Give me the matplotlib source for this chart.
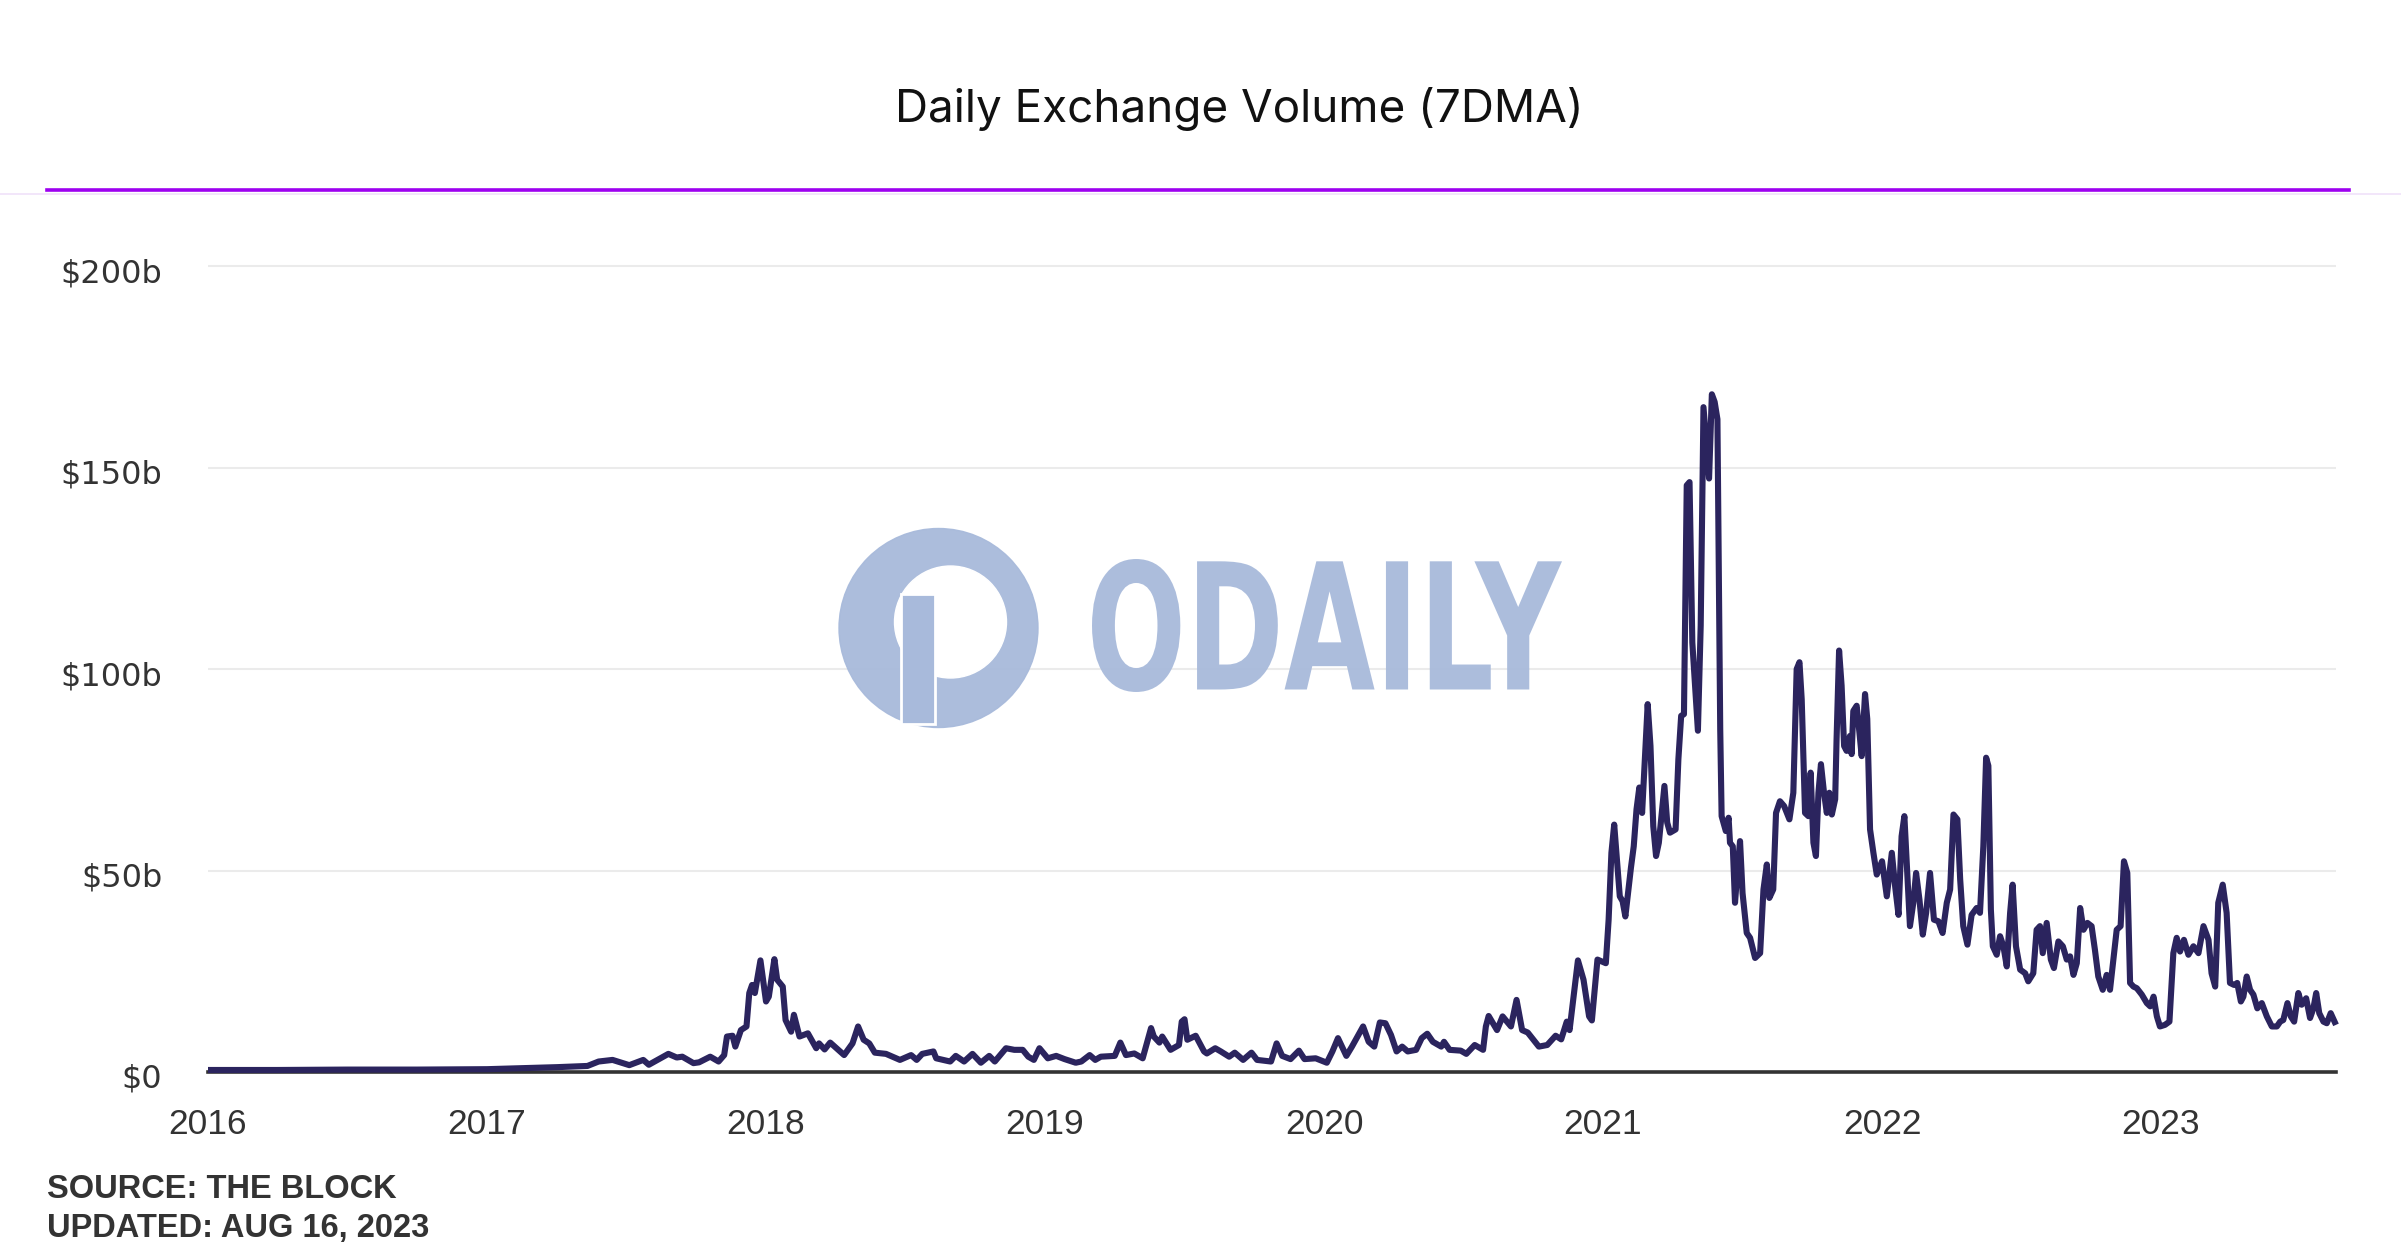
import matplotlib
matplotlib.use("Agg")
import matplotlib.pyplot as plt
from matplotlib.lines import Line2D
from matplotlib.patches import Ellipse, PathPatch, Rectangle
from matplotlib.textpath import TextPath
from matplotlib.font_manager import FontProperties
from matplotlib.transforms import Affine2D, ScaledTranslation

# Daily exchange volume, 7 day moving average, in billions of USD
# x values are decimal years
years = [
  2016.00, 2016.25, 2016.50, 2016.75, 2017.00, 2017.15, 2017.25, 2017.36, 2017.40, 2017.45,
  2017.51, 2017.56, 2017.58, 2017.65, 2017.68, 2017.70, 2017.74, 2017.76, 2017.80, 2017.83,
  2017.85, 2017.86, 2017.88, 2017.89, 2017.91, 2017.93, 2017.94, 2017.95, 2017.96, 2017.98,
  2018.00, 2018.01, 2018.03, 2018.04, 2018.06, 2018.07, 2018.09, 2018.10, 2018.12, 2018.15,
  2018.18, 2018.19, 2018.21, 2018.23, 2018.28, 2018.31, 2018.33, 2018.35, 2018.37, 2018.39,
  2018.43, 2018.48, 2018.52, 2018.54, 2018.56, 2018.60, 2018.61, 2018.66, 2018.68, 2018.71,
  2018.74, 2018.77, 2018.80, 2018.82, 2018.86, 2018.89, 2018.92, 2018.94, 2018.96, 2018.98,
  2019.01, 2019.04, 2019.07, 2019.11, 2019.13, 2019.16, 2019.18, 2019.20, 2019.25, 2019.27,
  2019.29, 2019.32, 2019.35, 2019.38, 2019.39, 2019.41, 2019.42, 2019.45, 2019.48, 2019.49,
  2019.50, 2019.51, 2019.54, 2019.57, 2019.58, 2019.61, 2019.63, 2019.66, 2019.68, 2019.71,
  2019.74, 2019.76, 2019.81, 2019.83, 2019.85, 2019.88, 2019.91, 2019.93, 2019.97, 2020.01,
  2020.03, 2020.05, 2020.08, 2020.10, 2020.14, 2020.16, 2020.18, 2020.20, 2020.22, 2020.24,
  2020.26, 2020.28, 2020.30, 2020.33, 2020.35, 2020.37, 2020.39, 2020.42, 2020.43, 2020.45,
  2020.49, 2020.51, 2020.54, 2020.57, 2020.58, 2020.59, 2020.62, 2020.64, 2020.67, 2020.69,
  2020.71, 2020.73, 2020.77, 2020.80, 2020.83, 2020.85, 2020.87, 2020.88, 2020.91, 2020.93,
  2020.95, 2020.96, 2020.98, 2021.01, 2021.02, 2021.03, 2021.04, 2021.06, 2021.07, 2021.08,
  2021.10, 2021.11, 2021.12, 2021.13, 2021.14, 2021.16, 2021.17, 2021.18, 2021.19, 2021.20,
  2021.22, 2021.23, 2021.24, 2021.26, 2021.27, 2021.28, 2021.29, 2021.30, 2021.31, 2021.32,
  2021.34, 2021.35, 2021.36, 2021.38, 2021.39, 2021.40, 2021.41, 2021.42, 2021.425, 2021.44,
  2021.45, 2021.455, 2021.465, 2021.473, 2021.481, 2021.491, 2021.50, 2021.515, 2021.527, 2021.545,
  2021.563, 2021.575, 2021.587, 2021.596, 2021.61, 2021.62, 2021.634, 2021.649, 2021.668, 2021.682,
  2021.694, 2021.704, 2021.712, 2021.724, 2021.736, 2021.744, 2021.754, 2021.763, 2021.772, 2021.781,
  2021.792, 2021.802, 2021.811, 2021.82, 2021.832, 2021.837, 2021.846, 2021.855, 2021.864, 2021.873,
  2021.885, 2021.891, 2021.897, 2021.909, 2021.919, 2021.927, 2021.939, 2021.947, 2021.957, 2021.969,
  2021.981, 2022.00, 2022.017, 2022.035, 2022.047, 2022.059, 2022.070, 2022.080, 2022.088, 2022.100,
  2022.112, 2022.122, 2022.134, 2022.146, 2022.158, 2022.172, 2022.186, 2022.202, 2022.217, 2022.232,
  2022.244, 2022.256, 2022.270, 2022.280, 2022.291, 2022.306, 2022.321, 2022.339, 2022.351, 2022.363,
  2022.373, 2022.381, 2022.390, 2022.397, 2022.411, 2022.423, 2022.435, 2022.447, 2022.459, 2022.468,
  2022.480, 2022.495, 2022.513, 2022.524, 2022.542, 2022.554, 2022.566, 2022.576, 2022.590, 2022.605,
  2022.616, 2022.632, 2022.648, 2022.662, 2022.674, 2022.686, 2022.698, 2022.710, 2022.722, 2022.736,
  2022.751, 2022.763, 2022.775, 2022.791, 2022.805, 2022.817, 2022.829, 2022.841, 2022.855, 2022.867,
  2022.879, 2022.889, 2022.901, 2022.913, 2022.931, 2022.949, 2022.961, 2022.973, 2022.985, 2022.996,
  2023.014, 2023.030, 2023.044, 2023.056, 2023.068, 2023.082, 2023.098, 2023.116, 2023.134, 2023.152,
  2023.170, 2023.181, 2023.194, 2023.205, 2023.221, 2023.235, 2023.247, 2023.262, 2023.273, 2023.286,
  2023.295, 2023.307, 2023.319, 2023.331, 2023.345, 2023.361, 2023.379, 2023.397, 2023.415, 2023.427,
  2023.438, 2023.453, 2023.465, 2023.477, 2023.492, 2023.504, 2023.520, 2023.534, 2023.546, 2023.556,
  2023.567, 2023.582, 2023.594, 2023.608, 2023.627,
]
volume_b = [
  0.5, 0.5, 0.6, 0.6, 0.7, 1.0, 1.2, 1.5, 2.6, 3.0,
  1.7, 3.0, 1.8, 4.5, 3.6, 3.8, 2.2, 2.4, 3.8, 2.6,
  4.2, 8.8, 9.0, 6.3, 10.4, 11.3, 19.6, 21.6, 19.6, 27.7,
  17.5, 18.7, 28.0, 22.9, 21.2, 12.9, 10.0, 14.2, 8.8, 9.6,
  5.9, 7.1, 5.6, 7.3, 4.2, 7.1, 11.3, 8.0, 7.1, 4.8,
  4.5, 3.0, 4.2, 3.0, 4.5, 5.1, 3.4, 2.6, 4.0, 2.6,
  4.5, 2.3, 4.0, 2.6, 5.9, 5.5, 5.5, 3.8, 3.0, 5.9,
  3.4, 4.0, 3.2, 2.3, 2.6, 4.2, 3.0, 3.8, 4.0, 7.3,
  4.2, 4.6, 3.4, 10.9, 8.8, 7.3, 8.8, 5.5, 6.7, 12.5,
  13.1, 8.0, 9.0, 5.1, 4.6, 5.9, 5.1, 3.8, 4.8, 3.0,
  4.8, 3.0, 2.6, 7.1, 4.0, 3.2, 5.3, 3.2, 3.4, 2.3,
  5.1, 8.4, 4.0, 6.3, 11.3, 7.5, 6.3, 12.3, 12.1, 9.2,
  5.1, 6.3, 5.1, 5.5, 8.4, 9.5, 7.5, 6.3, 7.5, 5.5,
  5.3, 4.5, 6.7, 5.5, 11.3, 13.9, 10.4, 13.8, 11.3, 17.9,
  10.4, 9.8, 6.3, 6.7, 9.0, 8.1, 12.5, 10.4, 27.7, 22.9,
  13.8, 12.8, 27.9, 27.0, 37.8, 54.4, 61.4, 43.6, 42.4, 38.6,
  50.7, 56.0, 65.2, 70.6, 64.3, 91.3, 80.9, 61.0, 53.6, 56.9,
  71.0, 61.9, 59.4, 60.2, 77.6, 88.4, 88.8, 145.6, 146.4, 106.6,
  84.7, 110.8, 165.0, 147.3, 168.2, 166.3, 162.0, 85.0, 63.5, 59.8,
  63.1, 56.9, 56.0, 42.0, 49.4, 57.3, 44.4, 34.5, 33.3, 28.3,
  29.5, 45.3, 51.5, 43.2, 45.3, 64.3, 67.2, 66.0, 62.7, 69.3,
  100.0, 101.7, 92.5, 64.3, 63.5, 74.3, 56.9, 53.6, 69.3, 76.4,
  69.3, 64.3, 69.3, 63.9, 67.7, 82.6, 104.6, 95.9, 80.9, 79.7,
  83.4, 78.9, 89.6, 90.9, 84.2, 78.4, 93.8, 87.6, 60.2, 54.4,
  49.0, 52.3, 43.6, 54.4, 46.0, 39.0, 58.5, 63.5, 52.7, 36.2,
  42.0, 49.4, 42.8, 34.1, 39.5, 49.4, 37.8, 37.4, 34.5, 42.0,
  45.3, 63.9, 62.7, 47.8, 36.2, 31.6, 39.0, 40.7, 39.5, 56.0,
  78.0, 76.0, 40.3, 31.2, 29.1, 33.7, 31.2, 26.2, 39.5, 46.5,
  31.2, 25.4, 24.5, 22.5, 24.5, 35.3, 36.2, 29.5, 37.0, 27.9,
  25.8, 32.4, 31.2, 27.9, 28.7, 24.1, 27.0, 40.7, 35.3, 37.0,
  36.2, 30.3, 23.7, 20.4, 24.1, 20.4, 27.9, 35.3, 36.2, 52.3,
  49.4, 22.1, 21.2, 20.8, 19.2, 17.1, 16.3, 18.7, 13.8, 11.3,
  11.7, 12.5, 29.5, 33.3, 29.9, 32.8, 29.1, 31.2, 29.5, 36.2,
  32.8, 24.5, 21.2, 42.0, 46.5, 39.5, 22.1, 21.6, 22.1, 17.5,
  18.7, 23.7, 20.4, 19.2, 15.8, 17.1, 13.8, 11.3, 11.3, 12.5,
  12.9, 17.1, 13.8, 12.5, 19.6, 16.7, 18.3, 13.4, 15.8, 19.6,
  14.6, 12.5, 12.1, 14.6, 11.7,
]

year_ticks = [2016, 2017, 2018, 2019, 2020, 2021, 2022, 2023]
y_ticks = [0, 50, 100, 150, 200]
y_labels = ["\\$0", "\\$50b", "\\$100b", "\\$150b", "\\$200b"]

title = "Daily Exchange Volume (7DMA)"
source_lines = ["SOURCE: THE BLOCK", "UPDATED: AUG 16, 2023"]

W, H = 2401, 1260
fig = plt.figure(figsize=(W / 100, H / 100), dpi=100, facecolor="white")

# plot area in pixels: x 208..2336, y 246..1072 (from top)
ax = fig.add_axes([208 / W, 1 - 1072 / H, (2336 - 208) / W, (1072 - 246) / H])
ax.set_xlim(2016.0, 2023.627)
ax.set_ylim(0, 205)
for s in ax.spines.values():
  s.set_visible(False)

for v in y_ticks[1:]:
  ax.axhline(v, color="#ebebeb", lw=1.5, zorder=0)
ax.axhline(0, color="#333333", lw=2.6, zorder=2, clip_on=False)

ax.plot(years, volume_b, color="#2b245e", lw=4.4, solid_joinstyle="round",
        solid_capstyle="butt", zorder=3, clip_on=False)

ax.set_yticks(y_ticks)
ax.set_yticklabels(y_labels, fontsize=23, color="#333333", family="DejaVu Sans")
ax.set_xticks(year_ticks)
ax.set_xticklabels([str(y) for y in year_ticks], fontsize=25.5, color="#333333",
                   family=["Liberation Sans", "DejaVu Sans"])
ax.tick_params(axis="y", length=0, pad=33)
ax.tick_params(axis="x", length=0, pad=26)
# y labels sit a little below their gridlines
shift = ScaledTranslation(0, -4 / 100, fig.dpi_scale_trans)
for lab in ax.get_yticklabels():
  lab.set_transform(lab.get_transform() + shift)

# header
fig.text(1239 / W, 1 - 109 / H, title, ha="center", va="center", fontsize=33,
         color="#111111", family=["Inter", "DejaVu Sans"])
fig.add_artist(Line2D([0, 1], [1 - 194 / H] * 2, color="#f0e2fa", lw=1.2,
                      transform=fig.transFigure))
fig.add_artist(Line2D([47 / W, 2349 / W], [1 - 190 / H] * 2, color="#9d00f0", lw=2.6,
                      transform=fig.transFigure))

# footer
fig.text(47 / W, 1 - 1190 / H, source_lines[0], ha="left", va="center", fontsize=23.5,
         fontweight="bold", color="#333333", family=["Liberation Sans", "DejaVu Sans"])
fig.text(47 / W, 1 - 1228 / H, source_lines[1], ha="left", va="center", fontsize=23.5,
         fontweight="bold", color="#333333", family=["Liberation Sans", "DejaVu Sans"])

# watermark
wm = "#a8badb"
cx, cy, r = 938.5, 628, 99.5
fig.add_artist(Ellipse((cx / W, 1 - cy / H), 2 * r / W, 2 * r / H, color=wm, alpha=0.95,
                       transform=fig.transFigure, zorder=1))
fig.add_artist(Ellipse(((cx + 12) / W, 1 - (cy - 6) / H), 2 * 56 / W, 2 * 56 / H,
                       color="white", transform=fig.transFigure, zorder=1))
fig.add_artist(Rectangle(((cx - 38) / W, 1 - (cy + 96) / H), 34 / W, 130 / H,
                         facecolor=wm, edgecolor="white", lw=2,
                         transform=fig.transFigure, zorder=1))
tp = TextPath((0, 0), "ODAILY", size=100, prop=FontProperties(family="DejaVu Sans", weight="bold"))
ext = tp.get_extents()
bx0, by0, bw, bh = 1092 / W, 1 - 692 / H, 470 / W, 133 / H
tr = Affine2D().translate(-ext.x0, -ext.y0).scale(bw / ext.width, bh / ext.height).translate(bx0, by0)
fig.add_artist(PathPatch(tr.transform_path(tp), facecolor=wm, edgecolor="none", alpha=0.95,
                         transform=fig.transFigure, zorder=1))

fig.savefig("out.png", dpi=100, facecolor="white")
